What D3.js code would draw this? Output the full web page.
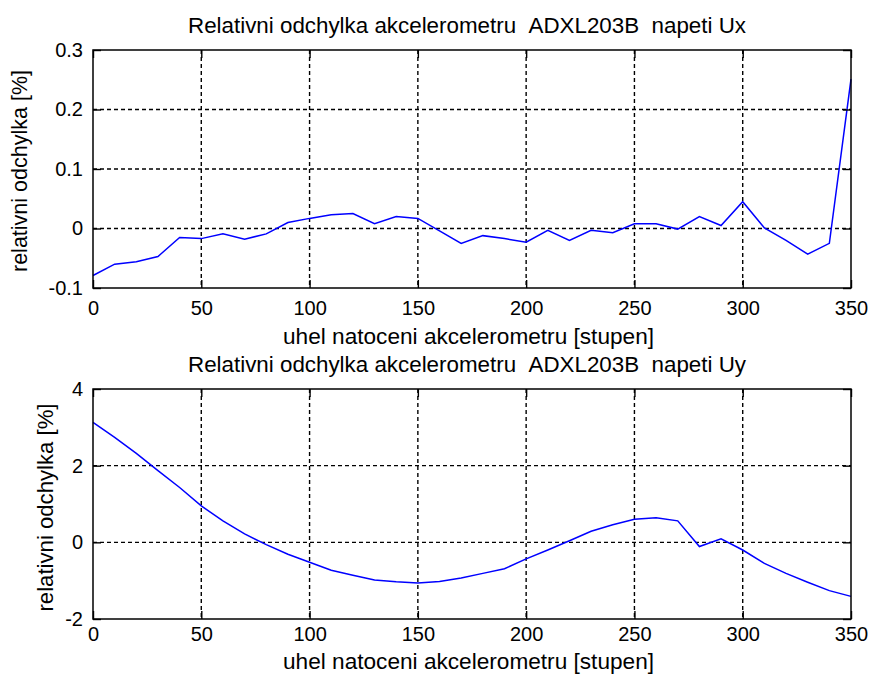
<!DOCTYPE html>
<html>
<head>
<meta charset="utf-8">
<script src="https://cdn.jsdelivr.net/npm/d3@7"></script>
<style>
  html, body { margin: 0; padding: 0; background: #fff; }
  svg { display: block; }
  text { font-family: "Liberation Sans", Arial, sans-serif; fill: #000; }
</style>
</head>
<body>
<svg id="chart" width="869" height="674"></svg>
<script>
// ---- data ----
const angles = [0,10,20,30,40,50,60,70,80,90,100,110,120,130,140,150,160,170,180,190,200,210,220,230,240,250,260,270,280,290,300,310,320,330,340,350];
const uxDeviation = [-0.079,-0.060,-0.056,-0.047,-0.015,-0.017,-0.009,-0.018,-0.009,0.010,0.017,0.023,0.025,0.008,0.020,0.017,-0.004,-0.025,-0.012,-0.017,-0.023,-0.003,-0.020,-0.003,-0.007,0.008,0.008,-0.001,0.020,0.005,0.045,0.001,-0.020,-0.043,-0.025,0.251];
const uyDeviation = [3.13,2.74,2.32,1.87,1.43,0.95,0.56,0.22,-0.06,-0.31,-0.52,-0.73,-0.86,-0.98,-1.03,-1.06,-1.02,-0.93,-0.81,-0.69,-0.43,-0.20,0.04,0.29,0.46,0.60,0.64,0.56,-0.11,0.09,-0.20,-0.55,-0.81,-1.04,-1.26,-1.41];
const xTicks = [0,50,100,150,200,250,300,350];
const uxTicks = [-0.1,0,0.1,0.2,0.3];
const uxTickLabels = ["-0.1","0","0.1","0.2","0.3"];
const uyTicks = [-2,0,2,4];
const uyTickLabels = ["-2","0","2","4"];
const titleUx = "Relativni odchylka akcelerometru\u00a0\u00a0ADXL203B\u00a0\u00a0napeti Ux";
const titleUy = "Relativni odchylka akcelerometru\u00a0\u00a0ADXL203B\u00a0\u00a0napeti Uy";
const xLabel = "uhel natoceni akcelerometru [stupen]";
const yLabel = "relativni odchylka [%]";

// ---- layout ----
const svg = d3.select("#chart");
const left = 93, right = 851;

function drawPanel(cfg) {
  const x = d3.scaleLinear().domain([0, 350]).range([left, right]);
  const y = d3.scaleLinear().domain(cfg.yDomain).range([cfg.bottom, cfg.top]);
  const g = svg.append("g");

  // grid
  const grid = g.append("g").attr("stroke", "#000").attr("stroke-width", 1.4)
    .attr("stroke-dasharray", "4,3").attr("fill", "none");
  grid.selectAll("line.gx").data(xTicks.slice(1, -1)).join("line")
    .attr("x1", d => x(d)).attr("x2", d => x(d))
    .attr("y1", cfg.top).attr("y2", cfg.bottom);
  grid.selectAll("line.gy").data(cfg.yTicks.slice(1, -1)).join("line")
    .attr("x1", left).attr("x2", right)
    .attr("y1", d => y(d)).attr("y2", d => y(d));

  // data line
  const pts = angles.map((a, i) => [a, cfg.values[i]]);
  g.append("path").datum(pts)
    .attr("fill", "none").attr("stroke", "#0000ff").attr("stroke-width", 1.5)
    .attr("d", d3.line().x(d => x(d[0])).y(d => y(d[1])));

  // axes
  const fmtY = d => cfg.yLabels[cfg.yTicks.indexOf(d)];
  const ax = g.append("g").attr("transform", `translate(0,${cfg.bottom})`)
    .call(d3.axisBottom(x).tickValues(xTicks).tickSize(-8).tickPadding(cfg.xPad).tickFormat(d3.format("d")));
  const axT = g.append("g").attr("transform", `translate(0,${cfg.top})`)
    .call(d3.axisTop(x).tickValues(xTicks).tickSize(-8).tickFormat(""));
  const ay = g.append("g").attr("transform", `translate(${left},0)`)
    .call(d3.axisLeft(y).tickValues(cfg.yTicks).tickSize(-8).tickPadding(10).tickFormat(fmtY));
  const ayR = g.append("g").attr("transform", `translate(${right},0)`)
    .call(d3.axisRight(y).tickValues(cfg.yTicks).tickSize(-8).tickFormat(""));
  [ax, axT, ay, ayR].forEach(a => {
    a.select(".domain").remove();
    a.selectAll("line").attr("stroke", "#000").attr("stroke-width", 1.4);
    a.selectAll("text").attr("font-size", 20).attr("font-family", '"Liberation Sans", Arial, sans-serif').attr("fill", "#222");
  });

  // box
  g.append("rect").attr("x", left).attr("y", cfg.top)
    .attr("width", right - left).attr("height", cfg.bottom - cfg.top)
    .attr("fill", "none").attr("stroke", "#000").attr("stroke-width", 1.5);

  // title
  g.append("text").attr("x", 467).attr("y", cfg.titleY).attr("text-anchor", "middle")
    .attr("font-size", 22).attr("textLength", 558).attr("lengthAdjust", "spacingAndGlyphs")
    .attr("fill", "#222").text(cfg.title);
  // x label
  g.append("text").attr("x", 468.5).attr("y", cfg.xLabelY).attr("text-anchor", "middle")
    .attr("font-size", 22).attr("textLength", 371).attr("lengthAdjust", "spacingAndGlyphs")
    .attr("fill", "#222").text(xLabel);
  // y label
  g.append("text").attr("transform", `translate(${cfg.yLabelX},${cfg.yLabelCY}) rotate(-90)`)
    .attr("text-anchor", "middle").attr("font-size", 22)
    .attr("textLength", cfg.yLabelLen).attr("lengthAdjust", "spacingAndGlyphs")
    .attr("fill", "#222").text(yLabel);
}

drawPanel({
  top: 50, bottom: 288, yDomain: [-0.1, 0.3], yTicks: uxTicks, yLabels: uxTickLabels,
  values: uxDeviation, title: titleUx, titleY: 33.3, xLabelY: 344, xPad: 13,
  yLabelX: 26.7, yLabelCY: 171, yLabelLen: 202
});
drawPanel({
  top: 389, bottom: 619, yDomain: [-2, 4], yTicks: uyTicks, yLabels: uyTickLabels,
  values: uyDeviation, title: titleUy, titleY: 371.5, xLabelY: 669, xPad: 8,
  yLabelX: 53, yLabelCY: 507.5, yLabelLen: 208
});
</script>
</body>
</html>
